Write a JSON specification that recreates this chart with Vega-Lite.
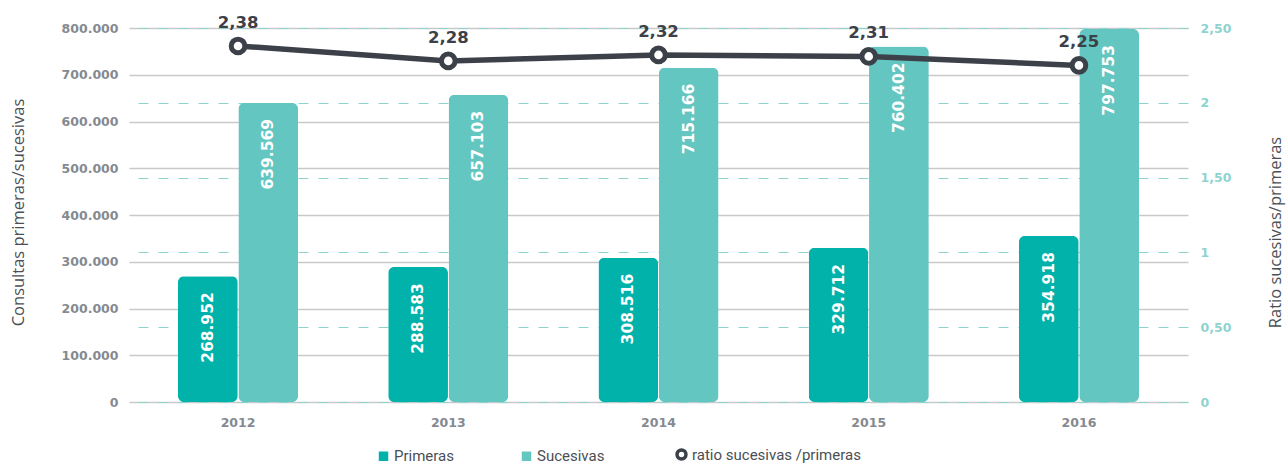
{
  "$schema": "https://vega.github.io/schema/vega-lite/v6.json",
  "width": 1059,
  "height": 374,
  "autosize": {"type": "none"},
  "padding": {"left": 129, "top": 28, "right": 100, "bottom": 64},
  "background": "white",
  "config": {
    "locale": {"number": {"decimal": ",", "thousands": ".", "grouping": [3], "currency": ["", " €"]}},
    "view": {"stroke": null},
    "axis": {
      "domain": false,
      "ticks": false,
      "labelFont": "DejaVu Sans",
      "labelFontWeight": "bold",
      "labelFontSize": 12.5,
      "labelColor": "#858a91",
      "titleFont": "Open Sans",
      "titleFontWeight": "normal",
      "titleFontSize": 16.5,
      "titleColor": "#4a4f55"
    }
  },
  "datasets": {
    "bars": [
      {"year": "2012", "serie": "Primeras", "value": 268952},
      {"year": "2012", "serie": "Sucesivas", "value": 639569},
      {"year": "2013", "serie": "Primeras", "value": 288583},
      {"year": "2013", "serie": "Sucesivas", "value": 657103},
      {"year": "2014", "serie": "Primeras", "value": 308516},
      {"year": "2014", "serie": "Sucesivas", "value": 715166},
      {"year": "2015", "serie": "Primeras", "value": 329712},
      {"year": "2015", "serie": "Sucesivas", "value": 760402},
      {"year": "2016", "serie": "Primeras", "value": 354918},
      {"year": "2016", "serie": "Sucesivas", "value": 797753}
    ],
    "ratio": [
      {"year": "2012", "ratio": 2.38},
      {"year": "2013", "ratio": 2.28},
      {"year": "2014", "ratio": 2.32},
      {"year": "2015", "ratio": 2.31},
      {"year": "2016", "ratio": 2.25}
    ]
  },
  "layer": [
    {
      "data": {"name": "bars"},
      "encoding": {
        "x": {
          "field": "year", "type": "nominal",
          "scale": {"paddingInner": 0.4286, "paddingOuter": 0.233},
          "axis": {"title": null, "labelAngle": 0, "labelPadding": 14, "grid": false}
        },
        "xOffset": {"field": "serie", "type": "nominal", "scale": {"domain": ["Primeras", "Sucesivas"], "paddingInner": 0.01}},
        "y": {
          "field": "value", "type": "quantitative",
          "scale": {"domain": [0, 800000], "nice": false},
          "axis": {
            "title": "Consultas primeras/sucesivas",
            "values": [0, 100000, 200000, 300000, 400000, 500000, 600000, 700000, 800000],
            "format": ",.0f",
            "grid": true,
            "gridColor": "#c9c9c9",
            "gridWidth": 1.5,
            "labelPadding": 11,
            "titleX": -111,
            "titleY": 184,
            "titleAngle": -90,
            "titleAlign": "center",
            "titleBaseline": "middle"
          }
        }
      },
      "layer": [
        {
          "mark": {"type": "bar", "cornerRadius": 6},
          "encoding": {
            "color": {
              "field": "serie", "type": "nominal",
              "scale": {"domain": ["Primeras", "Sucesivas", "ratio sucesivas /primeras"], "range": ["#00b2a9", "#64c6c1", "#ffffff"]},
              "legend": {
                "orient": "none",
                "legendX": 247,
                "legendY": 419,
                "direction": "horizontal",
                "columns": 3,
                "columnPadding": 65,
                "title": null,
                "padding": 0,
                "labelFont": "Roboto",
                "labelFontSize": 15,
                "labelColor": "#4a4f55",
                "labelOffset": 3,
                "labelLimit": 400,
                "symbolType": "square",
                "symbolSize": 90,
                "encode": {
                  "symbols": {
                    "update": {
                      "shape": {"signal": "datum.value === 'ratio sucesivas /primeras' ? 'circle' : 'square'"},
                      "fill": {"signal": "datum.value === 'Primeras' ? '#00b2a9' : datum.value === 'Sucesivas' ? '#64c6c1' : '#ffffff'"},
                      "stroke": {"signal": "datum.value === 'ratio sucesivas /primeras' ? '#3c4149' : 'transparent'"},
                      "strokeWidth": {"signal": "datum.value === 'ratio sucesivas /primeras' ? 3.5 : 0"},
                      "size": {"signal": "datum.value === 'ratio sucesivas /primeras' ? 80 : 90"},
                      "opacity": {"value": 1}
                    }
                  }
                }
              }
            }
          }
        },
        {
          "mark": {"type": "text", "angle": -90, "align": "right", "baseline": "middle", "dx": -16, "font": "DejaVu Sans", "fontWeight": "bold", "fontSize": 15.5, "color": "white"},
          "encoding": {"text": {"field": "value", "type": "quantitative", "format": ",.0f"}}
        }
      ]
    },
    {
      "data": {"name": "ratio"},
      "encoding": {
        "x": {"field": "year", "type": "nominal"},
        "y": {
          "field": "ratio", "type": "quantitative",
          "scale": {"domain": [0, 2.5], "nice": false},
          "axis": {
            "orient": "right",
            "title": "Ratio sucesivas/primeras",
            "values": [0, 0.5, 1, 1.5, 2, 2.5],
            "labelExpr": "datum.value % 1 === 0 ? format(datum.value, 'd') : replace(format(datum.value, '.2f'), '.', ',')",
            "labelColor": "#8fd3cf",
            "labelPadding": 12,
            "grid": true,
            "gridDash": [10, 10],
            "gridColor": "#8fd3cf",
            "gridWidth": 1,
            "titleAngle": -90,
            "titleX": 87,
            "titleY": 204,
            "titleAlign": "center",
            "titleBaseline": "middle"
          }
        }
      },
      "layer": [
        {"mark": {"type": "line", "color": "#3c4149", "strokeWidth": 5.5}, "encoding": {}},
        {"mark": {"type": "point", "shape": "circle", "filled": true, "fill": "white", "stroke": "#3c4149", "strokeWidth": 5, "size": 185, "opacity": 1}, "encoding": {}},
        {
          "mark": {"type": "text", "baseline": "alphabetic", "dy": -18, "font": "DejaVu Sans", "fontWeight": "bold", "fontSize": 16.5, "color": "#3c4149"},
          "encoding": {"text": {"field": "ratio", "type": "quantitative", "format": ".2f"}}
        }
      ]
    }
  ],
  "resolve": {"scale": {"y": "independent"}}
}
